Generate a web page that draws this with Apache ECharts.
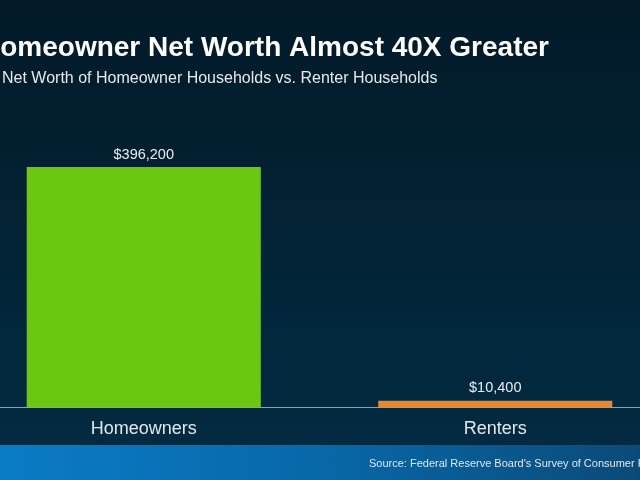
<!DOCTYPE html>
<html>
<head>
<meta charset="utf-8">
<script src="https://cdn.jsdelivr.net/npm/echarts@6/dist/echarts.min.js"></script>
<style>html,body{margin:0;padding:0;background:#021a28;}#c{width:640px;height:480px;}</style>
</head>
<body>
<div id="c"></div>
<script>
const categories = ['Homeowners', 'Renters'];
const netWorth = [396200, 10400];
const barColors = ['#6cc712', '#ea8632'];
const titleText = 'Homeowner Net Worth Almost 40X Greater';
const subtitleText = 'Net Worth of Homeowner Households vs. Renter Households';
const sourceText = "Source: Federal Reserve Board's Survey of Consumer Finances";

const FONT = 'Liberation Sans, Arial, sans-serif';
const chart = echarts.init(document.getElementById('c'), null, {renderer: 'canvas'});
chart.setOption({
  animation: false,
  backgroundColor: new echarts.graphic.LinearGradient(0, 0, 0, 1, [
    {offset: 0, color: '#021a28'},
    {offset: 0.9, color: '#032a40'},
    {offset: 1, color: '#032a40'}
  ]),
  grid: {left: -32, top: 167, width: 703, height: 240, containLabel: false, outerBoundsMode: 'none'},
  xAxis: {
    type: 'category',
    data: categories,
    axisLine: {show: true, lineStyle: {color: '#8fa3b3', width: 1}},
    axisTick: {show: false},
    axisLabel: {color: '#e4e8ec', fontSize: 18, fontFamily: FONT, margin: 13}
  },
  yAxis: {type: 'value', min: 0, max: 396200, show: false, splitLine: {show: false}},
  series: [{
    type: 'bar',
    barWidth: '66.6%',
    data: netWorth.map((v, i) => ({value: v, itemStyle: {color: barColors[i]}})),
    label: {
      show: true, position: 'top', distance: 5,
      color: '#e8ecef', fontSize: 14.5, fontFamily: FONT,
      formatter: p => '$' + p.value.toLocaleString('en-US')
    }
  }],
  graphic: [
    {type: 'rect', left: 0, top: 445, shape: {width: 640, height: 35},
      style: {fill: new echarts.graphic.LinearGradient(0, 0, 1, 0.3, [
        {offset: 0, color: '#0a7cc6'}, {offset: 0.5, color: '#0868a8'}, {offset: 1, color: '#0b4a78'}])}},
    {type: 'text', left: 369, top: 458, style: {text: sourceText, fill: '#dfe8f0', fontSize: 11, fontFamily: FONT}},
    {type: 'text', left: -20, top: 34, style: {text: titleText, fill: '#ffffff', fontSize: 28, fontWeight: 'bold', fontFamily: FONT}},
    {type: 'text', left: 2, top: 71, style: {text: subtitleText, fill: '#e6eaee', fontSize: 16, fontFamily: FONT}}
  ]
});
</script>
</body>
</html>
